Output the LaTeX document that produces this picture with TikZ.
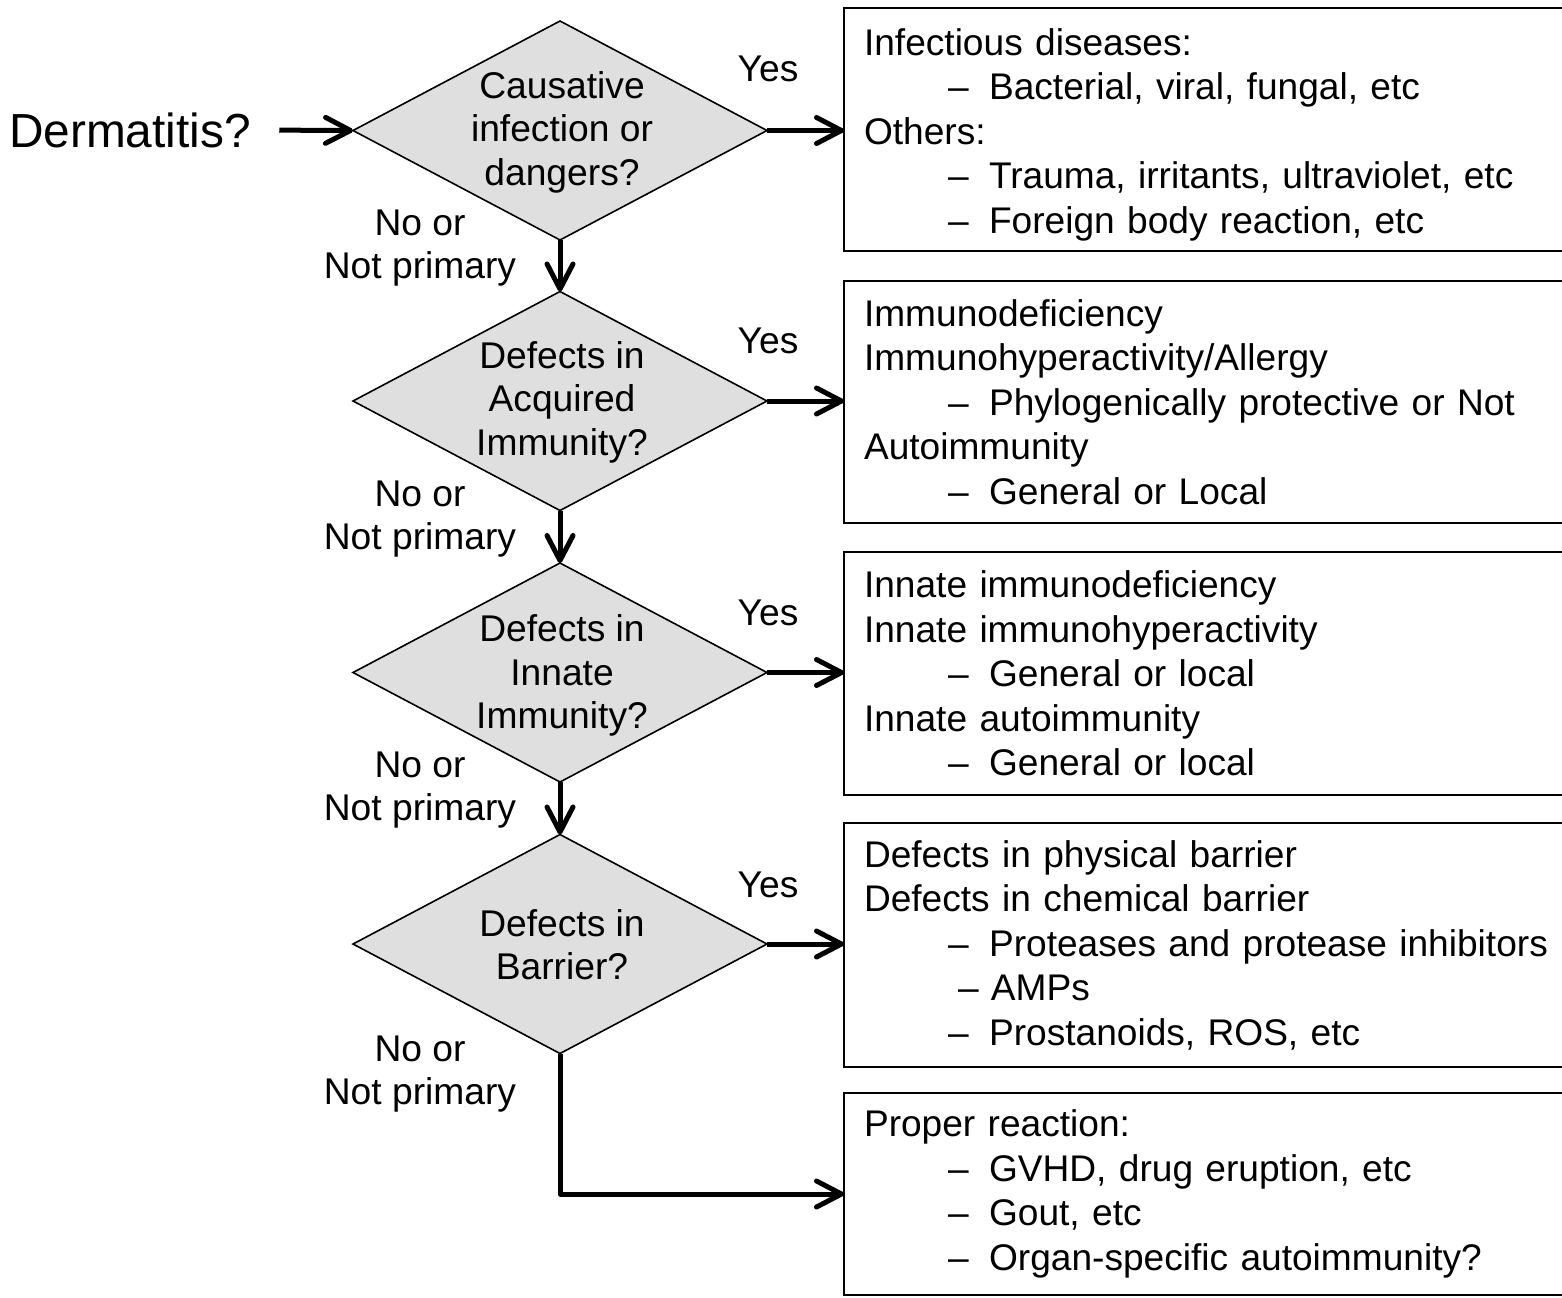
\documentclass[tikz,border=0pt]{standalone}
\usepackage{fontspec}
\setmainfont{Liberation Sans}
\usetikzlibrary{shapes.geometric,arrows.meta}
\newcommand\dfont{\fontsize{18.55pt}{22.25pt}\selectfont}
\newcommand\qfont{\fontsize{18.6pt}{21.75pt}\selectfont}
\newcommand\subind{\hspace*{42pt}–\hspace{0.55em}}
\begin{document}
\begin{tikzpicture}[x=0.5pt,y=-0.5pt,
  dia/.style={diamond, draw=black, line width=0.8pt, fill=gray!25, minimum width=207pt, minimum height=109.5pt, inner sep=0pt, outer sep=0pt},
  dtxt/.style={font=\qfont, align=center, inner sep=0pt},
  box/.style={rectangle, draw=black, line width=1.2pt, anchor=west, text width=380pt, inner xsep=10pt, inner ysep=0pt, outer sep=0pt, align=left, font=\dfont},
  arr/.style={line width=2.5pt, line join=round, -{Straight Barb[length=12.5pt,width=13pt,round]}},
  lbl/.style={font=\qfont, align=center, inner sep=0pt}]
\useasboundingbox (0,0) rectangle (1562,1297);
\clip (0,0) rectangle (1562,1297);

\node[font=\fontsize{23.9pt}{28pt}\selectfont, inner sep=0pt] (derm) at (130,130) {Dermatitis?};

\node[dia] (d1) at (560,130.5) {};
\node[dia] (d2) at (560,401) {};
\node[dia] (d3) at (560,672.5) {};
\node[dia] (d4) at (560,944) {};
\node[dtxt] (t1) at (562,132) {Causative\\infection or\\dangers?};
\node[dtxt] (t2) at (562,402) {Defects in\\Acquired\\Immunity?};
\node[dtxt] (t3) at (562,675.5) {Defects in\\Innate\\Immunity?};
\node[dtxt] (t4) at (562,944.5) {Defects in\\Barrier?};

\node[box, minimum height=121.5pt] (b1) at (844,129.5) {\rule{0pt}{18.7pt}Infectious diseases:\\\subind Bacterial, viral, fungal, etc\\Others:\\\subind Trauma, irritants, ultraviolet, etc\\\subind Foreign body reaction, etc};
\node[box, minimum height=121pt] (b2) at (844,402) {Immunodeficiency\\Immunohyperactivity/Allergy\\\subind Phylogenically protective or Not\\Autoimmunity\\\subind General or Local};
\node[box, minimum height=121.5pt] (b3) at (844,673.5) {Innate immunodeficiency\\Innate immunohyperactivity\\\subind General or local\\Innate autoimmunity\\\subind General or local};
\node[box, minimum height=122pt] (b4) at (844,945) {Defects in physical barrier\\Defects in chemical barrier\\\subind Proteases and protease inhibitors\\\hspace*{47pt}– AMPs\\\subind Prostanoids, ROS, etc};
\node[box, minimum height=101pt] (b5) at (844,1194) {Proper reaction:\\\subind GVHD, drug eruption, etc\\\subind Gout, etc\\\subind Organ-specific autoimmunity?};

\node[lbl] (y1) at (768,69) {Yes};
\node[lbl] (y2) at (768,341) {Yes};
\node[lbl] (y3) at (768,613) {Yes};
\node[lbl] (y4) at (768,885) {Yes};
\node[lbl] (n1) at (420,248) {No or\\Not primary};
\node[lbl] (n2) at (420,519) {No or\\Not primary};
\node[lbl] (n3) at (420,790) {No or\\Not primary};
\node[lbl] (n4) at (420,1074) {No or\\Not primary};

\draw[arr, shorten <=14pt] (derm.east) -- (d1.west);
\draw[arr] (d1.east) -- (d1.east -| b1.west);
\draw[arr] (d2.east) -- (d2.east -| b2.west);
\draw[arr] (d3.east) -- (d3.east -| b3.west);
\draw[arr] (d4.east) -- (d4.east -| b4.west);
\draw[arr] (d1.south) -- (d2.north);
\draw[arr] (d2.south) -- (d3.north);
\draw[arr] (d3.south) -- (d4.north);
\draw[arr] (d4.south) |- (b5.west);
\end{tikzpicture}
\end{document}
